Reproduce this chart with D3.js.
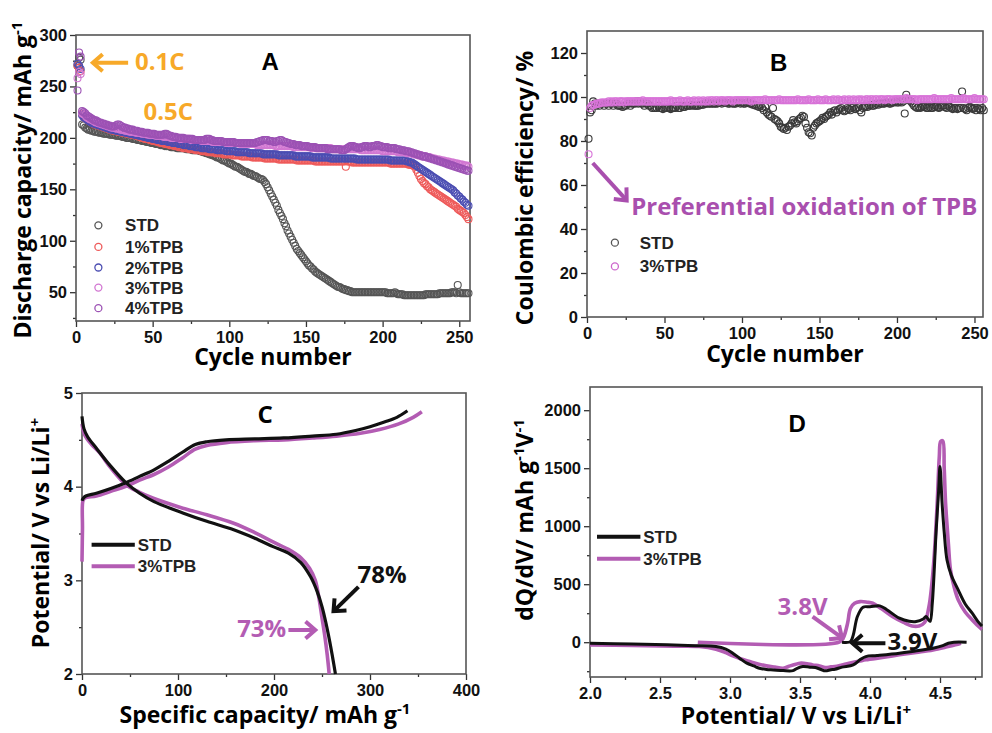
<!DOCTYPE html>
<html>
<head>
<meta charset="utf-8">
<script src="https://cdn.jsdelivr.net/npm/d3@7"></script>
<style>
  body { margin: 0; background: #fff; }
  svg text { font-family: "Liberation Sans", Arial, sans-serif; }
  .axis path.domain { display: none; }
  .axis line { stroke: #333; stroke-width: 1.3; }
  .axis text { font-size: 16.5px; font-weight: bold; fill: #111; }
  .title { font-family: "Open Sans", sans-serif; font-weight: bold; font-size: 23px; fill: #000; }
  .legend { font-size: 17px; font-weight: bold; fill: #222; }
  .note { font-family: "Open Sans", sans-serif; font-weight: bold; font-size: 24px; }
  .letter { font-size: 24px; font-weight: bold; fill: #000; }
</style>
</head>
<body>
<svg id="fig" width="992" height="733"></svg>
<script>
// ---- panel A: discharge capacity per cycle (cycle = index + 1) ----
const seriesA = ["STD", "1%TPB", "2%TPB", "3%TPB", "4%TPB"];
const stdCap = [
  270,278,276,213,212,210,209,208,208,207, 207,206,206,206,205,205,205,204,204,204,
  204,203,203,203,203,202,202,202,202,201, 201,201,200,200,200,200,199,199,199,198,
  198,198,197,197,197,196,196,196,195,195, 195,194,194,194,193,193,193,192,192,192,
  192,191,191,191,191,190,190,190,190,190, 190,189,189,189,189,188,188,188,188,188,
  187,187,186,186,185,185,184,184,183,183, 182,181,181,180,179,178,178,177,176,175,
  175,174,173,172,172,171,170,169,168,167, 167,166,165,165,164,163,163,162,161,160,
  160,159,157,155,152,149,146,143,140,137, 134,130,127,124,121,117,114,110,107,104,
  101,98,95,92,90,88,86,84,82,80, 78,76,75,73,72,70,69,68,67,66,
  65,64,63,62,61,60,59,58,57,56, 55,55,54,53,53,52,52,51,51,50,
  50,50,50,50,50,50,50,50,50,50, 50,50,50,50,50,50,50,50,50,50,
  50,50,49,49,49,49,49,50,49,48, 48,48,48,47,47,47,47,47,47,47,
  47,47,47,47,47,47,47,48,48,48, 48,48,48,48,48,48,49,49,49,49,
  49,49,49,49,50,50,50,49,57,50, 49,49,49,49,49,49
];
const tpb1Cap = [
  270,268,265,223,221,219,218,217,216,215, 214,213,213,212,212,211,211,210,210,209,
  209,208,208,207,207,207,206,206,206,205, 205,205,204,204,204,203,203,203,202,202,
  201,201,200,200,199,199,199,198,198,197, 197,197,196,196,195,195,195,194,194,194,
  193,193,193,192,192,192,191,191,191,190, 190,190,190,189,189,189,189,188,188,188,
  188,187,187,187,187,186,186,186,186,186, 185,185,185,185,185,184,184,184,184,184,
  184,183,183,183,183,183,183,182,182,182, 182,182,182,182,181,181,181,181,181,181,
  181,181,180,180,180,180,180,180,180,180, 180,179,179,179,179,179,179,179,179,179,
  179,179,179,178,178,178,178,178,178,178, 178,178,178,178,178,177,177,177,177,177,
  177,177,177,177,177,177,177,177,177,177, 177,177,177,177,177,172,177,177,177,176,
  176,176,176,176,176,176,176,176,176,176, 176,176,176,176,176,176,176,176,176,176,
  176,176,176,176,175,175,175,175,175,175, 175,175,175,175,175,175,174,174,174,173,
  172,169,166,163,160,158,156,155,153,152, 150,149,148,147,146,145,144,143,142,141,
  140,139,138,137,136,135,134,133,131,130, 129,128,127,125,123,121
];
const tpb2Cap = [
  272,270,267,222,220,219,218,217,216,215, 214,214,213,213,212,212,211,211,210,210,
  209,209,208,208,208,207,207,207,206,206, 206,205,205,205,204,204,204,203,203,203,
  202,202,202,201,201,201,200,200,200,199, 199,199,198,198,198,197,197,197,197,196,
  196,196,195,195,195,195,194,194,194,193, 193,193,193,192,192,192,192,191,191,191,
  191,190,190,190,190,190,189,189,189,189, 189,188,188,188,188,188,188,187,187,187,
  187,187,187,187,186,186,186,186,186,186, 186,186,185,185,185,185,185,185,185,185,
  185,184,184,184,184,184,184,184,184,184, 184,183,183,183,183,183,183,183,183,183,
  183,183,182,182,182,182,182,182,182,182, 182,182,182,181,181,181,181,181,181,181,
  181,181,181,181,181,180,180,180,180,180, 180,180,180,180,180,180,180,180,180,180,
  180,180,179,179,179,179,179,179,179,179, 179,179,179,179,179,179,179,179,179,179,
  179,179,179,179,178,178,178,178,178,178, 178,178,178,178,178,177,177,176,176,175,
  174,173,172,171,170,169,168,167,166,165, 164,163,162,161,160,159,158,157,156,155,
  154,153,152,151,150,149,147,146,144,143, 141,140,138,137,135,134
];
const tpb3Cap = [
  258,264,262,224,223,222,220,219,218,218, 217,216,215,215,214,214,213,213,212,212,
  211,211,210,210,210,209,209,209,208,208, 208,207,207,207,206,206,206,206,205,205,
  205,205,204,204,204,204,203,203,203,203, 203,202,202,202,202,202,201,201,201,201,
  201,200,200,200,200,200,200,199,199,199, 199,199,199,199,198,198,198,198,198,198,
  198,197,197,197,197,197,197,197,196,196, 196,196,196,196,196,196,196,195,195,195,
  195,195,195,195,195,195,194,194,194,194, 194,194,194,194,194,194,194,193,193,193,
  193,193,193,193,193,193,193,193,193,192, 192,192,192,192,192,192,192,192,192,192,
  192,191,191,191,191,191,191,191,191,191, 191,191,191,190,190,190,190,190,190,190,
  190,190,190,190,190,190,189,189,189,189, 189,189,189,189,189,189,189,189,189,189,
  189,189,189,189,189,188,188,188,188,188, 188,188,188,188,188,188,188,188,188,187,
  187,187,187,187,187,187,187,187,187,186, 186,186,186,186,186,185,185,185,185,184,
  184,184,183,183,183,182,182,182,181,181, 181,180,180,180,179,179,179,178,178,178,
  177,177,177,176,176,176,175,175,175,174, 174,174,173,173,173,172
];
const tpb4Cap = [
  246,283,279,226,225,224,222,221,220,219, 218,217,217,216,215,215,214,214,213,213,
  212,212,211,211,211,212,213,213,212,211, 210,210,209,209,208,208,208,207,207,207,
  206,206,206,205,205,205,205,204,204,204, 204,203,203,203,203,203,203,204,204,203,
  202,202,201,201,201,200,200,200,200,200, 199,199,199,199,199,199,198,198,198,198,
  198,198,198,198,199,199,199,198,198,197, 197,197,197,197,197,196,196,196,196,196,
  196,196,196,195,195,195,195,195,195,195, 195,195,195,195,195,195,195,196,196,197,
  197,198,198,198,198,197,197,197,196,196, 197,197,198,198,197,196,196,195,195,194,
  194,194,193,193,193,193,192,192,192,192, 192,191,191,191,191,191,190,190,190,190,
  190,190,190,189,189,189,189,189,189,189, 189,189,188,188,188,189,190,191,192,192,
  192,191,191,190,190,191,191,192,192,192, 191,191,192,192,192,193,193,192,192,191,
  191,191,191,190,190,190,190,190,189,189, 189,188,188,188,187,187,187,186,186,185,
  185,184,184,183,183,182,182,182,181,181, 180,180,179,179,178,178,177,177,176,176,
  175,175,174,174,173,173,172,172,171,171, 170,170,169,169,168,168
];
const colorsA = ["#555555", "#ee5a5a", "#4b4db2", "#d277d2", "#9c52b4"];
const ticksAx = [0, 50, 100, 150, 200, 250];
const minorAx = [25, 75, 125, 175, 225];
const ticksAy = [50, 100, 150, 200, 250, 300];
const minorAy = [25, 75, 125, 175, 225, 275];

// ---- panel B: coulombic efficiency per cycle ----
const seriesB = ["STD", "3%TPB"];
const stdCE = [
  81,93,94,98,97,96,97,96,97,97, 96,97,97,96,97,97,96,97,97,96,
  96,96,95.5,96,96,97,97,96,97,97, 97,98,97,98,97,97,96,97,97,96,
  96,95,95,95,95,96,95,95,94.5,95, 95,95,95,94.5,95,95,95,96,95,95,
  96,95.5,95.5,96,96,96,96,96.5,96,96, 96,96,96.5,96.5,96.5,97,97,97,97,97,
  97,97,97,97,97.5,97.5,97,97.5,97.5,97.5, 97,97,97.5,97,97,97,97.5,97.5,97,97.5,
  97,97,97.5,97.5,97,97,96.5,96.5,96,96, 95.5,96,95,94,95.5,93,92,91.5,91,95,
  90,89.5,89,88,86.5,86,85.5,86,85,86.5, 87,88,89.5,88.5,88,89,90,90.5,91.5,91,
  88,86,84,83.5,82.5,86,87,88,88.5,89, 89.5,90.5,90,91,91.5,92,93,92,93.5,94,
  93,94,94.5,95,94,93.5,94,95,94.5,94, 95,95.5,94.5,95,95.5,94,93,95,95.5,96,
  95.5,96,96.5,96,96,96.5,97,96.5,97,97, 97,97,97.5,97.5,97,97,97.5,97.5,98,97.5,
  97.5,98,97.5,98,92.5,101,99,98.5,98,97, 96,95.5,95,95.5,95,95.5,96,95.5,95,95,
  95.5,95,95,95.5,96,95.5,95,95.5,96,96, 95.5,95,96,95.5,95,94.5,95,95,94.5,95,
  95,102.5,95,94.5,94,95,95.5,95,94.5,95, 94,95,94.5,94,95,94
];
const tpb3CE = [
  74,95,96,96.5,96.5,97,97,97,97.5,97.5, 97.5,97.5,97.5,98,97.5,98,97.5,98,98,97.5,
  98,98,98,97.5,98,98,98,98,98,98, 98,98,98,98,98,98.5,98,98,98,98,
  98,98,98,98,98,98,98,98,98,98, 98,98,98,98.5,98,98,98,98,98,98.5,
  98,98,98,98,98.5,98,98,98,98.5,98, 98,98.5,98,98,98.5,98,98,98.5,98,98.5,
  98.5,98,98.5,98.5,98,98.5,98.5,98.5,98,98.5, 98.5,98.5,98.5,98,98.5,98.5,98.5,98.5,98.5,98.5,
  98.5,98.5,98.5,98.5,98.5,98,98.5,98.5,98.5,98.5, 98.5,98.5,98.5,98.5,99,98.5,98.5,98.5,98.5,98.5,
  98.5,98.5,98.5,99,98.5,98.5,98.5,98.5,98.5,98.5, 98.5,98.5,98.5,98.5,98.5,99,98.5,98.5,98.5,98.5,
  98.5,98.5,99,98.5,98.5,98.5,98.5,98.5,99,98.5, 98.5,98.5,98.5,99,98.5,98.5,98.5,98.5,99,98.5,
  98.5,99,98.5,98.5,98.5,99,98.5,98.5,99,98.5, 98.5,99,98.5,98.5,99,98.5,99,98.5,98.5,99,
  99,98.5,99,99,98.5,99,99,98.5,99,99, 99,98.5,99,99,99,99,98.5,99,99,99,
  99,99,99,99,99,99.5,99,99,99,99, 99,99,98.5,99,99,99,99,99,99,99,
  99,99,99,99.5,99,99,99,99,99,99, 99,99,99,99,99.5,99,99,99,99,99,
  99,99,99.5,99,99,99,99,99,99,99.5, 99,99,99,99,99,99
];
const colorsB = ["#3a3a3a", "#d873d8"];
const ticksBx = [0, 50, 100, 150, 200, 250];
const minorBx = [25, 75, 125, 175, 225];
const ticksBy = [0, 20, 40, 60, 80, 100, 120];
const minorBy = [10, 30, 50, 70, 90, 110];

// ---- panel C: voltage profiles [capacity mAh/g, potential V] ----
const stdCharge = [[0,3.85],[1.5,3.88],[4,3.9],[15,3.93],[30,3.98],[45,4.04],[60,4.11],[75,4.18],[90,4.27],
  [105,4.37],[118,4.45],[130,4.48],[150,4.5],[180,4.51],[210,4.52],[240,4.54],[265,4.56],[285,4.6],
  [300,4.64],[315,4.69],[328,4.74],[339,4.81]];
const tpbCharge = [[0,3.2],[0.5,3.55],[1,3.85],[3,3.88],[15,3.9],[30,3.95],[45,4.0],[60,4.07],[75,4.13],
  [90,4.21],[105,4.31],[118,4.4],[130,4.44],[150,4.47],[180,4.49],[210,4.5],[240,4.52],[265,4.54],
  [290,4.57],[310,4.61],[330,4.67],[345,4.74],[354,4.8]];
const stdDischarge = [[0,4.75],[2,4.62],[6,4.53],[15,4.41],[29,4.23],[46,4.04],[60,3.93],[75,3.84],
  [105,3.72],[130,3.63],[158,3.54],[180,3.45],[199,3.36],[215,3.29],[228,3.19],[238,3.04],[245,2.88],
  [250,2.72],[254,2.55],[258,2.35],[261,2.18],[264,2.0]];
const tpbDischarge = [[0,4.67],[3,4.55],[10,4.45],[18.5,4.36],[30,4.2],[46,4.02],[60,3.94],[71,3.89],
  [90,3.82],[105,3.77],[130,3.7],[158,3.61],[180,3.51],[199,3.41],[215,3.33],[228,3.24],[237,3.13],
  [243,3.0],[247,2.8],[250,2.6],[253,2.4],[255.5,2.2],[257.5,2.0]];
const ticksCx = [0, 100, 200, 300, 400];
const minorCx = [50, 150, 250, 350];
const ticksCy = [2, 3, 4, 5];
const minorCy = [2.5, 3.5, 4.5];

// ---- panel D: dQ/dV [potential V, dQ/dV] ----
const tpbCharge_dqdv = [[2.77,0],[3.78,0],[3.81,40],[3.84,164],[3.86,290],[3.89,335],[3.93,350],[3.98,345],
  [4.02,336],[4.08,290],[4.16,221],[4.24,170],[4.3,140],[4.35,140],[4.39,170],[4.42,300],[4.44,480],
  [4.46,767],[4.48,1200],[4.495,1600],[4.505,1730],[4.52,1735],[4.53,1500],[4.54,1198],[4.56,850],
  [4.575,623],[4.6,480],[4.63,365],[4.68,260],[4.73,192],[4.79,120],[4.8,110]];
const stdCharge_dqdv = [[3.8,0],[3.86,5],[3.88,60],[3.91,221],[3.95,302],[4.0,305],[4.07,313],[4.12,280],
  [4.21,207],[4.28,180],[4.33,178],[4.38,200],[4.4,221],[4.42,190],[4.43,180],[4.445,336],[4.46,650],
  [4.47,910],[4.49,1300],[4.5,1514],[4.515,1198],[4.53,950],[4.55,709],[4.58,580],[4.63,451],
  [4.68,330],[4.73,250],[4.77,180],[4.8,140]];
const stdDischarge_dqdv = [[2.0,-10],[2.3,-15],[2.55,-23],[2.75,-30],[2.9,-37],[2.97,-60],[3.02,-95],
  [3.07,-140],[3.12,-181],[3.17,-205],[3.21,-224],[3.26,-235],[3.31,-239],[3.38,-245],[3.45,-245],
  [3.48,-225],[3.52,-210],[3.57,-215],[3.61,-218],[3.65,-235],[3.68,-247],[3.72,-238],[3.75,-233],
  [3.8,-215],[3.88,-196],[3.93,-150],[3.97,-124],[4.05,-115],[4.21,-95],[4.3,-80],[4.45,-52],
  [4.52,-30],[4.56,-9],[4.6,0],[4.69,0]];
const tpbDischarge_dqdv = [[2.0,-23],[2.3,-28],[2.6,-34],[2.78,-37],[2.9,-60],[2.97,-90],[3.02,-118],
  [3.08,-145],[3.14,-167],[3.2,-188],[3.26,-204],[3.32,-215],[3.38,-224],[3.43,-204],[3.47,-190],
  [3.5,-181],[3.55,-185],[3.59,-196],[3.64,-205],[3.68,-218],[3.72,-213],[3.75,-210],[3.8,-196],
  [3.85,-181],[3.92,-165],[3.97,-152],[4.1,-130],[4.21,-109],[4.33,-88],[4.45,-66],[4.55,-40],
  [4.61,-23],[4.65,-10]];
const ticksDx = [2.0, 2.5, 3.0, 3.5, 4.0, 4.5];
const minorDx = [2.25, 2.75, 3.25, 3.75, 4.25, 4.75];
const ticksDy = [0, 500, 1000, 1500, 2000];
const minorDy = [-250, 250, 750, 1250, 1750];

const lineBlack = "#111111";
const linePink = "#b35cb3";
const orange = "#f7a929";

const svg = d3.select("#fig");

function makePanel(p) {
  const x = d3.scaleLinear().domain(p.xDomain).range([p.left, p.right]);
  const y = d3.scaleLinear().domain(p.yDomain).range([p.bottom, p.top]);
  const g = svg.append("g");
  g.append("g").attr("class", "axis").attr("transform", `translate(0,${p.bottom})`)
    .call(d3.axisBottom(x).tickValues(p.xMinor).tickSize(3).tickSizeOuter(0).tickFormat(""));
  g.append("g").attr("class", "axis").attr("transform", `translate(0,${p.bottom})`)
    .call(d3.axisBottom(x).tickValues(p.xTicks).tickSize(6).tickPadding(4).tickSizeOuter(0).tickFormat(p.xFmt || d3.format("d")));
  g.append("g").attr("class", "axis").attr("transform", `translate(${p.left},0)`)
    .call(d3.axisLeft(y).tickValues(p.yMinor).tickSize(3).tickSizeOuter(0).tickFormat(""));
  g.append("g").attr("class", "axis").attr("transform", `translate(${p.left},0)`)
    .call(d3.axisLeft(y).tickValues(p.yTicks).tickSize(6).tickPadding(3).tickSizeOuter(0).tickFormat(p.yFmt || d3.format("d")));
  g.append("rect")
    .attr("x", p.left).attr("y", p.top)
    .attr("width", p.right - p.left).attr("height", p.bottom - p.top)
    .attr("fill", "none").attr("stroke", "#555").attr("stroke-width", 1.6);
  return { g, x, y };
}

function richText(sel, parts) {
  parts.forEach(([t, sup], i) => {
    const prevSup = i > 0 && parts[i - 1][1];
    sel.append("tspan")
      .attr("dy", sup ? -9 : (prevSup ? 9 : 0))
      .attr("font-size", sup ? 15 : null)
      .text(t);
  });
}

function xTitle(g, cx, by, parts) {
  const t = g.append("text").attr("class", "title").attr("x", cx).attr("y", by).attr("text-anchor", "middle");
  richText(t, parts);
}

function yTitle(g, bx, cy, parts) {
  const t = g.append("text").attr("class", "title")
    .attr("transform", `translate(${bx},${cy}) rotate(-90)`).attr("text-anchor", "middle");
  richText(t, parts);
}

function arrow(g, x1, y1, x2, y2, color) {
  const a = Math.atan2(y2 - y1, x2 - x1);
  const len = 13, spread = 0.72;
  g.append("line").attr("x1", x1).attr("y1", y1).attr("x2", x2 - 2 * Math.cos(a)).attr("y2", y2 - 2 * Math.sin(a))
    .attr("stroke", color).attr("stroke-width", 4);
  const p1 = [x2 - len * Math.cos(a - spread), y2 - len * Math.sin(a - spread)];
  const p2 = [x2 - len * Math.cos(a + spread), y2 - len * Math.sin(a + spread)];
  g.append("path").attr("d", `M${p1}L${x2},${y2}L${p2}`)
    .attr("fill", "none").attr("stroke", color).attr("stroke-width", 4).attr("stroke-linejoin", "miter");
}

function note(g, x, y, text, color, cls = "note", anchor = "start") {
  g.append("text").attr("class", cls).attr("x", x).attr("y", y).attr("fill", color)
    .attr("text-anchor", anchor).text(text);
}

// ---------- Panel A ----------
{
  const { g, x, y } = makePanel({ left: 76, right: 470, top: 35, bottom: 321,
    xDomain: [0, 257], yDomain: [22, 300], xTicks: ticksAx, xMinor: minorAx, yTicks: ticksAy, yMinor: minorAy });
  [stdCap, tpb1Cap, tpb2Cap, tpb3Cap, tpb4Cap].forEach((vals, k) => {
    g.append("g").selectAll("circle").data(vals).join("circle")
      .attr("cx", (d, i) => x(i + 1)).attr("cy", d => y(d)).attr("r", 3.5)
      .attr("fill", "none").attr("stroke", colorsA[k]).attr("stroke-width", 1.1);
  });
  const legY = [115, 94, 74, 54.5, 34.5];
  seriesA.forEach((name, k) => {
    g.append("circle").attr("cx", x(14.6)).attr("cy", y(legY[k])).attr("r", 3.5)
      .attr("fill", "none").attr("stroke", colorsA[k]).attr("stroke-width", 1.3);
    g.append("text").attr("class", "legend").attr("x", x(32)).attr("y", y(legY[k]) + 6).text(name);
  });
  arrow(g, x(34), y(273), x(11), y(273), orange);
  note(g, x(38.5), y(266), "0.1C", orange);
  note(g, x(44), y(217.5), "0.5C", orange);
  note(g, x(126.6), y(266), "A", "#000", "letter", "middle");
  xTitle(g, 273, 365, [["Cycle number"]]);
  yTitle(g, 31, 180, [["Discharge capacity/ mAh g"], ["-1", true]]);
}

// ---------- Panel B ----------
{
  const { g, x, y } = makePanel({ left: 587, right: 983, top: 31, bottom: 317,
    xDomain: [0, 255.5], yDomain: [0, 130], xTicks: ticksBx, xMinor: minorBx, yTicks: ticksBy, yMinor: minorBy });
  [stdCE, tpb3CE].forEach((vals, k) => {
    g.append("g").selectAll("circle").data(vals).join("circle")
      .attr("cx", (d, i) => x(i + 1)).attr("cy", d => y(d)).attr("r", 3.5)
      .attr("fill", "none").attr("stroke", colorsB[k]).attr("stroke-width", 1.1);
  });
  const legY = [33.8, 23];
  seriesB.forEach((name, k) => {
    g.append("circle").attr("cx", x(18)).attr("cy", y(legY[k])).attr("r", 3.5)
      .attr("fill", "none").attr("stroke", k ? "#cc66cc" : "#555").attr("stroke-width", 1.3);
    g.append("text").attr("class", "legend").attr("x", x(34)).attr("y", y(legY[k]) + 6).text(name);
  });
  arrow(g, x(3.7), y(70), x(25.6), y(53), "#a94fae");
  note(g, x(28.5), y(46.5), "Preferential oxidation of TPB", "#a94fae");
  note(g, x(123.7), y(112), "B", "#000", "letter", "middle");
  xTitle(g, 785, 362, [["Cycle number"]]);
  yTitle(g, 533, 188, [["Coulombic efficiency/ %"]]);
}

// ---------- Panel C ----------
{
  const { g, x, y } = makePanel({ left: 82, right: 466, top: 393, bottom: 674,
    xDomain: [0, 400], yDomain: [2, 5], xTicks: ticksCx, xMinor: minorCx, yTicks: ticksCy, yMinor: minorCy });
  const line = d3.line().x(d => x(d[0])).y(d => y(d[1])).curve(d3.curveCatmullRom.alpha(0.5));
  [[tpbCharge, linePink], [tpbDischarge, linePink], [stdCharge, lineBlack], [stdDischarge, lineBlack]]
    .forEach(([pts, c]) => {
      g.append("path").attr("d", line(pts)).attr("fill", "none").attr("stroke", c)
        .attr("stroke-width", c === linePink ? 3.6 : 3.2).attr("stroke-linejoin", "round");
    });
  [["STD", lineBlack, 3.38], ["3%TPB", linePink, 3.15]].forEach(([name, c, v]) => {
    g.append("line").attr("x1", x(10)).attr("x2", x(55)).attr("y1", y(v)).attr("y2", y(v))
      .attr("stroke", c).attr("stroke-width", 4);
    g.append("text").attr("class", "legend").attr("x", x(58)).attr("y", y(v) + 6).text(name);
  });
  note(g, x(190.7), y(4.68), "C", "#000", "note", "middle");
  note(g, x(287), y(2.975), "78%", "#111");
  arrow(g, x(288), y(2.93), x(262), y(2.67), "#111");
  note(g, x(161.6), y(2.40), "73%", linePink);
  arrow(g, x(215), y(2.47), x(243), y(2.47), linePink);
  xTitle(g, 265, 723, [["Specific capacity/ mAh g"], ["-1", true]]);
  yTitle(g, 49, 533, [["Potential/ V vs Li/Li"], ["+", true]]);
}

// ---------- Panel D ----------
{
  const { g, x, y } = makePanel({ left: 590, right: 982, top: 387, bottom: 677,
    xDomain: [2.0, 4.8], yDomain: [-300, 2200], xTicks: ticksDx, xMinor: minorDx, yTicks: ticksDy, yMinor: minorDy,
    xFmt: d3.format(".1f") });
  const line = d3.line().x(d => x(d[0])).y(d => y(d[1])).curve(d3.curveCatmullRom.alpha(0.5));
  [[tpbCharge_dqdv, linePink], [tpbDischarge_dqdv, linePink], [stdDischarge_dqdv, lineBlack], [stdCharge_dqdv, lineBlack]]
    .forEach(([pts, c]) => {
      g.append("path").attr("d", line(pts)).attr("fill", "none").attr("stroke", c)
        .attr("stroke-width", c === linePink ? 3.6 : 3).attr("stroke-linejoin", "round");
    });
  [["STD", lineBlack, 910], ["3%TPB", linePink, 720]].forEach(([name, c, v]) => {
    g.append("line").attr("x1", x(2.05)).attr("x2", x(2.36)).attr("y1", y(v)).attr("y2", y(v))
      .attr("stroke", c).attr("stroke-width", 4);
    g.append("text").attr("class", "legend").attr("x", x(2.38)).attr("y", y(v) + 6).text(name);
  });
  note(g, x(3.48), y(1815), "D", "#000", "letter", "middle");
  note(g, x(3.34), y(235), "3.8V", linePink);
  arrow(g, x(3.59), y(220), x(3.80), y(37), linePink);
  note(g, x(4.125), y(-66), "3.9V", "#111");
  arrow(g, x(4.11), y(-9), x(3.875), y(-9), "#111");
  xTitle(g, 796, 724, [["Potential/ V vs Li/Li"], ["+", true]]);
  yTitle(g, 533, 520, [["dQ/dV/ mAh g"], ["-1", true], ["V"], ["-1", true]]);
}
</script>
</body>
</html>
